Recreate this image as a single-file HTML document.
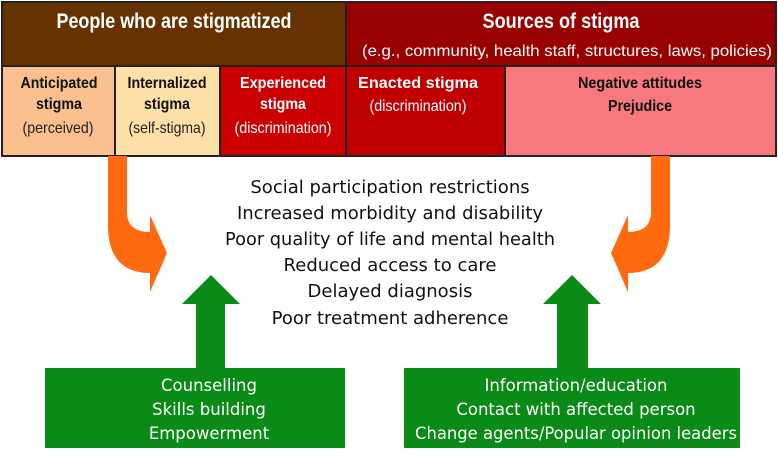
<!DOCTYPE html>
<html><head><meta charset="utf-8"><style>
body{margin:0;width:778px;height:456px;background:#fff;overflow:hidden;font-family:"Liberation Sans",sans-serif}
svg{display:block}
</style></head><body>
<svg width="778" height="456" viewBox="0 0 778 456">
<rect x="2" y="2" width="344" height="64" fill="#663300"/>
<rect x="346" y="2" width="430" height="64" fill="#990000"/>
<rect x="2" y="66" width="113" height="90" fill="#fac090"/>
<rect x="115" y="66" width="105" height="90" fill="#fde0a8"/>
<rect x="220" y="66" width="126" height="90" fill="#cc0000"/>
<rect x="346" y="66" width="159" height="90" fill="#c00000"/>
<rect x="505" y="66" width="271" height="90" fill="#f7797d"/>
<g stroke="#222" stroke-width="2" fill="none">
<rect x="2" y="2" width="774" height="154"/>
<line x1="2" y1="66" x2="776" y2="66"/>
<line x1="346" y1="2" x2="346" y2="156"/>
<line x1="115" y1="66" x2="115" y2="156"/>
<line x1="220" y1="66" x2="220" y2="156"/>
<line x1="505" y1="66" x2="505" y2="156"/>
</g>
<g font-weight="bold" text-anchor="middle">
<text x="174" y="28" font-size="21" fill="#fff" textLength="235" lengthAdjust="spacingAndGlyphs">People who are stigmatized</text>
<text x="561" y="28" font-size="21" fill="#fff" textLength="157" lengthAdjust="spacingAndGlyphs">Sources of stigma</text>
<text x="59" y="88" font-size="16" fill="#111" textLength="77" lengthAdjust="spacingAndGlyphs">Anticipated</text>
<text x="59" y="109" font-size="16" fill="#111" textLength="46" lengthAdjust="spacingAndGlyphs">stigma</text>
<text x="167" y="88" font-size="16" fill="#111" textLength="79" lengthAdjust="spacingAndGlyphs">Internalized</text>
<text x="167" y="109" font-size="16" fill="#111" textLength="46" lengthAdjust="spacingAndGlyphs">stigma</text>
<text x="283" y="88" font-size="16" fill="#fff" textLength="86" lengthAdjust="spacingAndGlyphs">Experienced</text>
<text x="283" y="109" font-size="16" fill="#fff" textLength="46" lengthAdjust="spacingAndGlyphs">stigma</text>
<text x="418" y="88" font-size="16" fill="#fff" textLength="120" lengthAdjust="spacingAndGlyphs">Enacted stigma</text>
<text x="640" y="88" font-size="16" fill="#111" textLength="124" lengthAdjust="spacingAndGlyphs">Negative attitudes</text>
<text x="640" y="111" font-size="16" fill="#111" textLength="64" lengthAdjust="spacingAndGlyphs">Prejudice</text>
</g>
<g text-anchor="middle" font-size="16">
<text x="567" y="56" fill="#fff" textLength="410" lengthAdjust="spacingAndGlyphs">(e.g., community, health staff, structures, laws, policies)</text>
<text x="58" y="133" fill="#222" textLength="71" lengthAdjust="spacingAndGlyphs">(perceived)</text>
<text x="167" y="133" fill="#222" textLength="77" lengthAdjust="spacingAndGlyphs">(self-stigma)</text>
<text x="283" y="133" fill="#fff" textLength="97" lengthAdjust="spacingAndGlyphs">(discrimination)</text>
<text x="418" y="111" fill="#fff" textLength="97" lengthAdjust="spacingAndGlyphs">(discrimination)</text>
</g>
<path d="M108,156 L127,156 L127,212 Q127,232 150,232 L150,215 L167,253 L150,292 L150,273 Q108,273 108,225 Z" fill="#ff6a0e"/>
<path d="M670,156 L651,156 L651,212 Q651,232 628,232 L628,215 L611,253 L628,292 L628,273 Q670,273 670,225 Z" fill="#ff6a0e"/>
<path d="M196,368 L196,304 L182,304 L211,275 L240,304 L225,304 L225,368 Z" fill="#0a8a17"/>
<path d="M557,368 L557,304 L543,304 L572,275 L601,304 L588,304 L588,368 Z" fill="#0a8a17"/>
<rect x="45" y="368" width="300" height="80" fill="#0a8a17"/>
<rect x="404" y="368" width="336" height="80" fill="#0a8a17"/>
<g text-anchor="middle" font-family="DejaVu Sans, sans-serif" font-size="16.5" fill="#fff">
<text x="209" y="391">Counselling</text>
<text x="209" y="415">Skills building</text>
<text x="209" y="439">Empowerment</text>
<text x="576" y="391">Information/education</text>
<text x="576" y="415">Contact with affected person</text>
<text x="576" y="439" textLength="322" lengthAdjust="spacingAndGlyphs">Change agents/Popular opinion leaders</text>
</g>
<g text-anchor="middle" font-family="DejaVu Sans, sans-serif" font-size="18" fill="#111">
<text x="390" y="193">Social participation restrictions</text>
<text x="390" y="219">Increased morbidity and disability</text>
<text x="390" y="245" textLength="330" lengthAdjust="spacingAndGlyphs">Poor quality of life and mental health</text>
<text x="390" y="271">Reduced access to care</text>
<text x="390" y="297">Delayed diagnosis</text>
<text x="390" y="324">Poor treatment adherence</text>
</g>
</svg>
</body></html>
